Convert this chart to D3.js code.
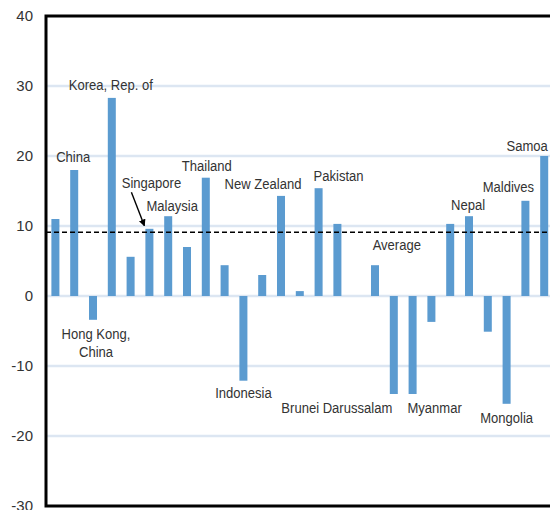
<!DOCTYPE html>
<html>
<head>
<meta charset="utf-8">
<script src="https://cdn.jsdelivr.net/npm/d3@7"></script>
<style>
  html, body { margin: 0; padding: 0; background: #fff; }
  svg { display: block; }
  text { font-family: "Liberation Sans", Arial, sans-serif; }
</style>
</head>
<body>
<svg id="chart" width="550" height="510"></svg>
<script>
// ---- data ----
const categories = [
  "Economy A", "China", "Hong Kong, China", "Korea, Rep. of", "Economy B",
  "Singapore", "Malaysia", "Economy C", "Thailand", "Economy D",
  "Indonesia", "Economy E", "New Zealand", "Economy F", "Pakistan",
  "Economy G", "Economy H", "Economy I", "Brunei Darussalam", "Myanmar",
  "Economy J", "Economy K", "Nepal", "Economy L", "Mongolia",
  "Maldives", "Samoa"
];
const values = [
  11.0, 18.0, -3.4, 28.3, 5.6,
  9.6, 11.4, 7.0, 16.9, 4.4,
  -12.1, 3.0, 14.3, 0.7, 15.4,
  10.3, null, 4.4, -14.0, -14.0,
  -3.7, 10.3, 11.4, -5.1, -15.4,
  13.6, 20.0
];
const averageValue = 9.1;
const yTicks = [-30, -20, -10, 0, 10, 20, 30, 40];
const labelTexts = [
  ["China"], ["Korea, Rep. of"], ["Hong Kong,", "China"], ["Singapore"],
  ["Malaysia"], ["Thailand"], ["Indonesia"], ["New Zealand"], ["Pakistan"],
  ["Average"], ["Brunei Darussalam"], ["Myanmar"], ["Nepal"], ["Mongolia"],
  ["Maldives"], ["Samoa"]
];
const labelCategories = [
  "China", "Korea, Rep. of", "Hong Kong, China", "Singapore",
  "Malaysia", "Thailand", "Indonesia", "New Zealand", "Pakistan",
  "Brunei Darussalam", "Brunei Darussalam", "Myanmar", "Nepal", "Mongolia",
  "Maldives", "Samoa"
];

// ---- layout (positions / styles) ----
const plotLeft = 46, plotTop = 16, plotBottom = 506;
const step = 18.8;
const plotRight = plotLeft + step * categories.length;
// label placement: dx in px from bar centre, y in value units (baseline)
const labelLayout = [
  {dx: -1, y: 19.1}, {dx: -1, y: 29.4}, {dx: 3, y: -6.1}, {dx: 2, y: 15.4},
  {dx: 4, y: 12.1}, {dx: 1, y: 17.9}, {dx: 0, y: -14.6}, {dx: -18, y: 15.3},
  {dx: 20, y: 16.4}, {dx: 3, y: 6.6}, {dx: -57, y: -16.7}, {dx: 22, y: -16.7},
  {dx: -1, y: 12.3}, {dx: 0, y: -18.1}, {dx: -17, y: 14.9}, {dx: -17, y: 20.7}
];
const lineHeight = 18;
const labelScaleX = 0.87;

const svg = d3.select("#chart");

const x = d3.scaleBand()
  .domain(categories)
  .range([plotLeft, plotRight])
  .paddingInner(0.574)
  .paddingOuter(0.287);

const y = d3.scaleLinear().domain([-30, 40]).range([plotBottom, plotTop]);

// gridlines
svg.append("g").selectAll("line")
  .data(yTicks.filter(t => t > -30 && t < 40))
  .join("line")
  .attr("x1", plotLeft).attr("x2", plotRight)
  .attr("y1", d => y(d)).attr("y2", d => y(d))
  .attr("stroke", "#dce6f2").attr("stroke-width", 2.5);

// y axis tick labels
const yAxis = d3.axisLeft(y).tickValues(yTicks).tickSize(0).tickPadding(13)
  .tickFormat(d => String(d));
const ga = svg.append("g").attr("transform", `translate(${plotLeft},0)`).call(yAxis);
ga.select(".domain").remove();
ga.selectAll("text")
  .attr("font-size", 15)
  .attr("fill", "#333")
  .style("font-family", '"Liberation Sans", Arial, sans-serif');

// bars
const data = categories.map((c, i) => ({c, v: values[i]})).filter(d => d.v !== null);
svg.append("g").selectAll("rect")
  .data(data)
  .join("rect")
  .attr("x", d => x(d.c))
  .attr("width", x.bandwidth())
  .attr("y", d => y(Math.max(0, d.v)))
  .attr("height", d => Math.abs(y(d.v) - y(0)))
  .attr("fill", "#5b9bd0");

// average dashed line
svg.append("line")
  .attr("x1", plotLeft).attr("x2", plotRight)
  .attr("y1", y(averageValue)).attr("y2", y(averageValue))
  .attr("stroke", "#000").attr("stroke-width", 1.4)
  .attr("stroke-dasharray", "5,3");

// frame
svg.append("path")
  .attr("d", `M${plotRight},${plotTop} H${plotLeft} V${plotBottom} H${plotRight}`)
  .attr("fill", "none").attr("stroke", "#000").attr("stroke-width", 3);

// labels
const lg = svg.append("g");
labelTexts.forEach((lines, i) => {
  const cat = labelCategories[i];
  const L = labelLayout[i];
  const cx = x(cat) + x.bandwidth() / 2 + L.dx;
  const t = lg.append("text")
    .attr("transform", `translate(${cx},${y(L.y)}) scale(${labelScaleX},1)`)
    .attr("text-anchor", "middle")
    .attr("font-size", 15)
    .attr("fill", "#333");
  lines.forEach((ln, j) => {
    t.append("tspan").attr("x", 0).attr("dy", j === 0 ? 0 : lineHeight).text(ln);
  });
});

// arrow Singapore -> bar
const defs = svg.append("defs");
defs.append("marker").attr("id", "ah")
  .attr("viewBox", "0 0 10 10").attr("refX", 9).attr("refY", 5)
  .attr("markerWidth", 7).attr("markerHeight", 7)
  .attr("markerUnits", "userSpaceOnUse")
  .attr("orient", "auto")
  .append("path").attr("d", "M0,0 L10,5 L0,10 z").attr("fill", "#000");
const sgIdx = labelCategories.indexOf("Singapore");
const sgCx = x("Singapore") + x.bandwidth() / 2;
const sgLabelX = sgCx + labelLayout[sgIdx].dx;
svg.append("line")
  .attr("x1", sgLabelX - 20).attr("y1", y(labelLayout[sgIdx].y) + 4)
  .attr("x2", sgCx - 5).attr("y2", y(values[categories.indexOf("Singapore")]) - 3)
  .attr("stroke", "#000").attr("stroke-width", 1.4)
  .attr("marker-end", "url(#ah)");
</script>
</body>
</html>
